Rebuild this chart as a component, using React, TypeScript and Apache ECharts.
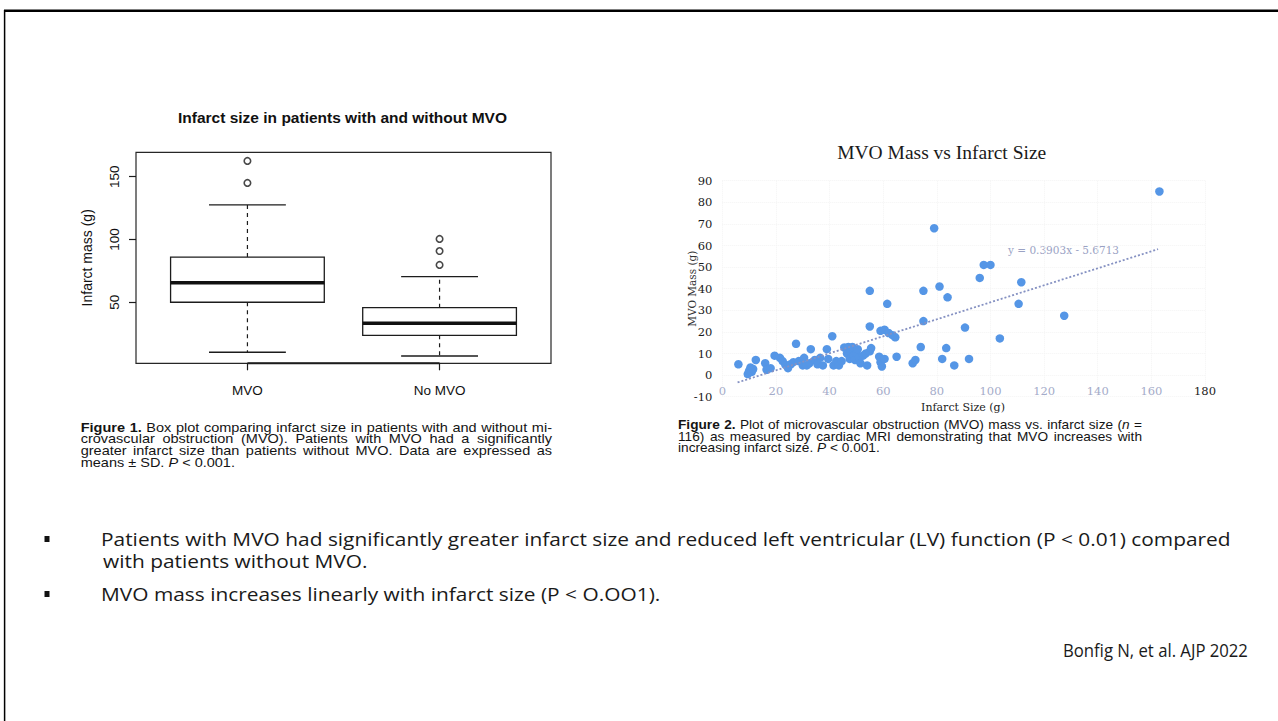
import React, { useEffect, useRef } from "react";
import * as echarts from "echarts";

const SANS = '"Liberation Sans", Arial, sans-serif';
const SERIF = '"DejaVu Serif", serif';
const TITLE_SERIF = '"Liberation Serif", serif';
const SLIDE_FONT = '"Open Sans", "Liberation Sans", sans-serif';

// ---------- Figure 1: box plot ----------
const BOX_CATEGORIES = ["MVO", "No MVO"];
// [lower whisker, Q1, median, Q3, upper whisker]
const BOX_STATS = [
  [10.2, 50, 65.6, 86, 127.5],
  [7.2, 23.7, 33.3, 45.7, 70.4],
];
const BOX_OUTLIERS = [
  [1, 162.5],
  [1, 145],
  [2, 100.4],
  [2, 90.8],
  [2, 79.7],
];
const BOX_Y_TICKS = [50, 100, 150];
const BOX_X_TICKS = [1, 2];

// ---------- Figure 2: scatter ----------
const SCATTER_POINTS = [
  [6, 5], [9.5, 0.5], [10, 2], [10.5, 3.5], [11, 1.5], [11.5, 2.8], [12.5, 7], [16, 5.5],
  [16.5, 2.5], [18, 3.2], [19.5, 9], [21.5, 8], [22.5, 6.5], [23.5, 4.8], [24.5, 3.2],
  [25.5, 5], [26.5, 6], [27.5, 14.5], [28.5, 6.5], [30, 4.5], [30.5, 8], [31.5, 4.5],
  [32.5, 5.5], [33, 12], [34.5, 7], [35.5, 5], [36.5, 8], [37.5, 4.5], [39, 12], [39.5, 7.5],
  [41, 18], [41.5, 4.5], [42.5, 6.5], [43.5, 4.5], [44.5, 6.5], [45.5, 12.8], [46.5, 10],
  [47, 13], [47.5, 7.5], [48, 11], [48.5, 13], [49, 9], [49.5, 7], [50, 10.5], [50.5, 12],
  [51, 8], [51.5, 5.5], [52.5, 9], [53.5, 10], [54, 4.5], [55, 11], [55.5, 12.5], [55, 22.5],
  [55, 39], [58.5, 8.5], [59, 6], [59.5, 4], [60.5, 7.5], [59, 20.5], [60.5, 21], [61.5, 33],
  [62, 19.5], [63.5, 18.5], [64.5, 17.5], [65, 8.5], [71, 5.5], [72, 7], [74, 13], [75, 25],
  [75, 39], [79, 68], [82, 7.5], [81, 41], [83.5, 12.5], [84, 36], [86.5, 4.5], [90.5, 22],
  [92, 7.5], [96, 45], [97.5, 51], [100, 51], [103.5, 17], [110.5, 33], [111.5, 43],
  [127.5, 27.5], [163, 85],
];
// dotted linear trendline end points as drawn
const TREND_LINE = [
  [5.7, -3.4],
  [162.5, 58.3],
];
const TREND_LABEL = "y = 0.3903x - 5.6713";

// ---------- Texts ----------
const FIG1_TITLE = "Infarct size in patients with and without MVO";
const FIG2_TITLE = "MVO Mass vs Infarct Size";
const FIG1_CAPTION = [
  "**Figure **1. Box plot comparing infarct size in patients with and without mi-",
  "crovascular obstruction (MVO). Patients with MVO had a significantly",
  "greater infarct size than patients without MVO. Data are expressed as",
  "means ± SD. *P < 0.001.",
];
const FIG2_CAPTION = [
  "**Figure **2. Plot of microvascular obstruction (MVO) mass vs. infarct size (|*n =",
  "116) as measured by cardiac MRI demonstrating that MVO increases with",
  "increasing infarct size. *P < 0.001.",
];
const BULLETS = [
  ["Patients with MVO had significantly greater infarct size and reduced left ventricular (LV) function (P < 0.01) compared", "with patients without MVO."],
  ["MVO mass increases linearly with infarct size (P < O.OO1)."],
];
const CITATION = "Bonfig N, et al. AJP 2022";

type Measure = (t: string, size: number, family: string, bold?: boolean, italic?: boolean) => number;

function makeMeasure(): Measure {
  const ctx = document.createElement("canvas").getContext("2d")!;
  return (t, size, family, bold = false, italic = false) => {
    ctx.font = `${italic ? "italic " : ""}${bold ? "bold " : ""}${size}px ${family}`;
    return ctx.measureText(t).width;
  };
}

function parseLine(measure: Measure, line: string, size: number, family: string) {
  return line.split(" ").map((w) => {
    const segs = w.split("|").map((s) => {
      let t = s;
      let bold = false;
      let italic = false;
      if (t.startsWith("**")) {
        bold = true;
        t = t.slice(2);
      } else if (t.startsWith("*")) {
        italic = true;
        t = t.slice(1);
      }
      return { t, bold, italic, w: measure(t, size, family, bold, italic) };
    });
    return { segs, w: segs.reduce((a, s) => a + s.w, 0) };
  });
}

function styledText(t: string, x: number, y: number, size: number, family: string, o: any = {}) {
  return {
    type: "text",
    x,
    y,
    scaleX: o.scaleX || 1,
    silent: true,
    style: {
      text: t,
      fontSize: size,
      fontFamily: family,
      fontWeight: o.bold ? "bold" : "normal",
      fontStyle: o.italic ? "italic" : "normal",
      fill: o.color || "#141414",
      align: o.align || "left",
      verticalAlign: "middle",
      textAlign: o.align || "left",
      textVerticalAlign: "middle",
    },
  };
}

// "**" prefix => bold, "*" prefix => italic, "|" joins segments without a space.
// Justified lines (except the last), text stretched horizontally by a common factor.
function captionElements(
  measure: Measure,
  lines: string[],
  x: number,
  y0: number,
  lineH: number,
  width: number,
  size: number,
  family: string
) {
  const els: any[] = [];
  const space = measure(" ", size, family);
  const parsed = lines.map((l) => parseLine(measure, l, size, family));
  const naturals = parsed
    .slice(0, -1)
    .map((ws) => ws.reduce((a, w) => a + w.w, 0) + space * (ws.length - 1));
  const sx = (0.985 * width) / Math.max(...naturals);
  parsed.forEach((words, li) => {
    const total = words.reduce((a, w) => a + w.w * sx, 0);
    const isLast = li === parsed.length - 1;
    const gap = isLast || words.length < 2 ? space * sx : (width - total) / (words.length - 1);
    let cx = x;
    words.forEach((w) => {
      let px = cx;
      w.segs.forEach((s) => {
        els.push(styledText(s.t, px, y0 + li * lineH, size, family, { bold: s.bold, italic: s.italic, scaleX: sx }));
        px += s.w * sx;
      });
      cx += w.w * sx + gap;
    });
  });
  return els;
}

export default function App() {
  const ref = useRef<HTMLDivElement>(null);

  useEffect(() => {
    if (!ref.current) return;
    const chart = echarts.init(ref.current, undefined, { renderer: "svg" });
    const measure = makeMeasure();

    const BOX_HALF = 0.4;
    const CAP_HALF = 0.2;
    const stroke = "#1c1c1c";

    // slide text: fixed height, stretched/condensed to the reference line widths
    const slideSize = 18.5;
    const slideSx = (1232 - 101) / measure(BULLETS[0][0], slideSize, SLIDE_FONT);
    const citeSize = 17.5;
    const citeSx = 185 / measure(CITATION, citeSize, SLIDE_FONT);

    const bulletEls: any[] = [];
    const bulletYs = [[539, 561], [594]];
    BULLETS.forEach((b, bi) => {
      bulletEls.push({
        type: "rect",
        silent: true,
        shape: { x: 44.5, y: bulletYs[bi][0] - 3, width: 5, height: 6 },
        style: { fill: "#111" },
      });
      b.forEach((line, li) => {
        bulletEls.push(
          styledText(line, li === 0 ? 101 : 103, bulletYs[bi][li], slideSize, SLIDE_FONT, { color: "#1a1a1a", scaleX: slideSx })
        );
      });
    });
    bulletEls.push(styledText(CITATION, 1248 - 185, 650, citeSize, SLIDE_FONT, { color: "#1a1a1a", scaleX: citeSx }));

    const option: any = {
      animation: false,
      backgroundColor: "#ffffff",
      grid: [
        {
          left: 136,
          top: 152.3,
          width: 415,
          height: 211,
          show: true,
          borderColor: "#262626",
          borderWidth: 1.2,
          backgroundColor: "transparent",
        },
        { left: 722.3, top: 180.7, width: 482.7, height: 216 },
      ],
      xAxis: [
        {
          gridIndex: 0,
          type: "value",
          min: 0.42,
          max: 2.58,
          axisLine: { show: false },
          splitLine: { show: false },
          axisTick: {
            show: true,
            customValues: BOX_X_TICKS,
            length: 7,
            lineStyle: { color: stroke, width: 1.2 },
          },
          axisLabel: {
            customValues: BOX_X_TICKS,
            formatter: (v: number) => BOX_CATEGORIES[Math.round(v) - 1] || "",
            margin: 20,
            fontSize: 13.5,
            fontFamily: SANS,
            color: "#111",
          },
        },
        {
          gridIndex: 1,
          type: "value",
          min: 0,
          max: 180,
          interval: 20,
          offset: -21.6,
          axisLine: { show: false, onZero: false },
          axisTick: { show: false },
          splitLine: { show: true, lineStyle: { color: "#f4f4f4", type: "dotted" } },
          axisLabel: {
            margin: 10,
            fontSize: 11.5,
            fontFamily: SERIF,
            color: (v: any) => (Number(v) === 180 ? "#1a1a1a" : "#a4abc9"),
          },
        },
      ],
      yAxis: [
        {
          gridIndex: 0,
          type: "value",
          min: 1.4,
          max: 169.4,
          axisLine: { show: false },
          splitLine: { show: false },
          axisTick: {
            show: true,
            customValues: BOX_Y_TICKS,
            length: 7,
            lineStyle: { color: stroke, width: 1.2 },
          },
          axisLabel: {
            customValues: BOX_Y_TICKS,
            rotate: 90,
            margin: 15,
            fontSize: 13.5,
            fontFamily: SANS,
            color: "#111",
          },
          name: "Infarct mass (g)",
          nameLocation: "middle",
          nameGap: 42,
          nameMoveOverlap: false,
          nameTextStyle: { fontSize: 14, fontFamily: SANS, color: "#111" },
        },
        {
          gridIndex: 1,
          type: "value",
          min: -10,
          max: 90,
          interval: 10,
          axisLine: { show: false },
          axisTick: { show: false },
          splitLine: { show: true, lineStyle: { color: "#f4f4f4", type: "dotted" } },
          axisLabel: { margin: 10, fontSize: 11.5, fontFamily: SERIF, color: "#1a1a1a" },
          name: "MVO Mass (g)",
          nameLocation: "middle",
          nameGap: 25,
          nameMoveOverlap: false,
          nameTextStyle: { fontSize: 10.5, fontFamily: SERIF, color: "#333" },
        },
      ],
      series: [
        {
          type: "line",
          xAxisIndex: 0,
          yAxisIndex: 0,
          data: BOX_X_TICKS.map((t) => [t, 1.4]),
          symbol: "none",
          clip: false,
          lineStyle: { color: stroke, width: 2 },
          silent: true,
        },
        {
          type: "custom",
          xAxisIndex: 0,
          yAxisIndex: 0,
          data: BOX_STATS.map((s, i) => [i + 1, ...s]),
          encode: { x: 0, y: [1, 2, 3, 4, 5] },
          renderItem: (_p: any, api: any) => {
            const xc = api.value(0);
            const lo = api.value(1);
            const q1 = api.value(2);
            const med = api.value(3);
            const q3 = api.value(4);
            const hi = api.value(5);
            const [xl, yq3] = api.coord([xc - BOX_HALF, q3]);
            const [xr, yq1] = api.coord([xc + BOX_HALF, q1]);
            const [xm, ymed] = api.coord([xc, med]);
            const ylo = api.coord([xc, lo])[1];
            const yhi = api.coord([xc, hi])[1];
            const cl = api.coord([xc - CAP_HALF, lo])[0];
            const cr = api.coord([xc + CAP_HALF, lo])[0];
            return {
              type: "group",
              children: [
                { type: "line", shape: { x1: xm, y1: yq3, x2: xm, y2: yhi }, style: { stroke, lineWidth: 1.2, lineDash: [4, 4] } },
                { type: "line", shape: { x1: xm, y1: yq1, x2: xm, y2: ylo }, style: { stroke, lineWidth: 1.2, lineDash: [4, 4] } },
                { type: "line", shape: { x1: cl, y1: yhi, x2: cr, y2: yhi }, style: { stroke, lineWidth: 1.3 } },
                { type: "line", shape: { x1: cl, y1: ylo, x2: cr, y2: ylo }, style: { stroke, lineWidth: 1.3 } },
                { type: "rect", shape: { x: xl, y: yq3, width: xr - xl, height: yq1 - yq3 }, style: { stroke, fill: "#fff", lineWidth: 1.3 } },
                { type: "line", shape: { x1: xl, y1: ymed, x2: xr, y2: ymed }, style: { stroke: "#111", lineWidth: 3.5 } },
              ],
            };
          },
        },
        {
          type: "scatter",
          xAxisIndex: 0,
          yAxisIndex: 0,
          data: BOX_OUTLIERS,
          symbol: "circle",
          symbolSize: 6.5,
          itemStyle: { color: "#fff", borderColor: "#1a1a1a", borderWidth: 1.6 },
        },
        {
          type: "scatter",
          xAxisIndex: 1,
          yAxisIndex: 1,
          data: SCATTER_POINTS,
          symbol: "circle",
          symbolSize: 8.5,
          itemStyle: { color: "#5596e6", opacity: 1 },
        },
        {
          type: "line",
          xAxisIndex: 1,
          yAxisIndex: 1,
          data: TREND_LINE,
          symbol: "none",
          lineStyle: { color: "#8591c2", width: 1.8, type: [2, 2] },
          silent: true,
        },
      ],
      graphic: [
        { type: "line", silent: true, shape: { x1: 4, y1: 10.8, x2: 1278, y2: 10.8 }, style: { stroke: "#000", lineWidth: 2.6 } },
        { type: "line", silent: true, shape: { x1: 4.6, y1: 10, x2: 4.6, y2: 721 }, style: { stroke: "#000", lineWidth: 1.5 } },
        styledText(FIG1_TITLE, 342.5, 117, 15.5, SANS, { bold: true, align: "center", color: "#111" }),
        styledText(FIG2_TITLE, 941.7, 152.7, 19.5, TITLE_SERIF, { align: "center", color: "#1a1a1a" }),
        styledText(TREND_LABEL, 1008, 250, 10.5, SERIF, { color: "#9aa2c4" }),
        styledText("Infarct Size (g)", 963, 407.3, 11, SERIF, { align: "center", color: "#222" }),
        ...captionElements(measure, FIG1_CAPTION, 80.7, 427.7, 11.7, 471.3, 12, SANS),
        ...captionElements(measure, FIG2_CAPTION, 678, 425, 11.6, 464, 12, SANS),
        ...bulletEls,
      ],
    };

    chart.setOption(option);
    return () => chart.dispose();
  }, []);

  return <div ref={ref} style={{ position: "fixed", left: 0, top: 0, width: 1278, height: 721 }} />;
}
